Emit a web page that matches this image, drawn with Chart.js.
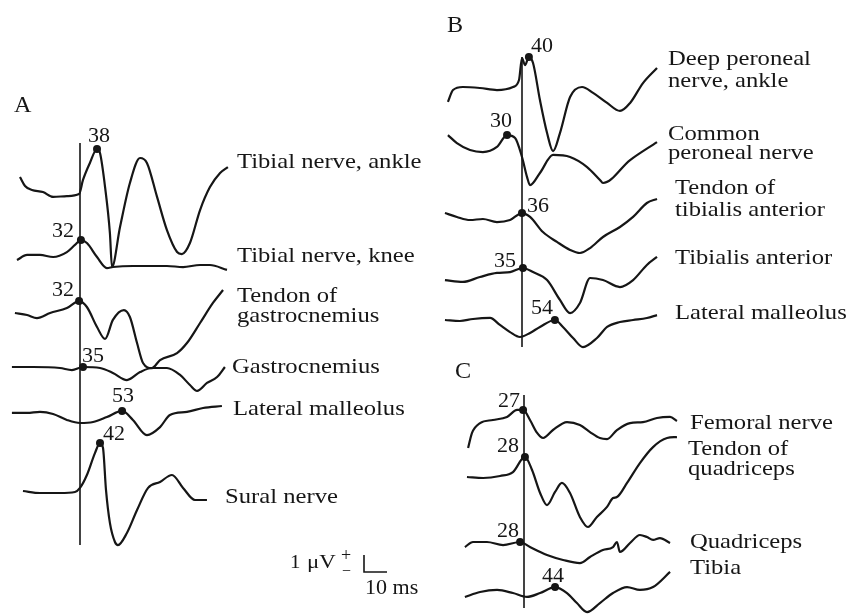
<!DOCTYPE html>
<html>
<head>
<meta charset="utf-8">
<script src="https://cdn.jsdelivr.net/npm/chart.js@4/dist/chart.umd.min.js"></script>
<style>
  html, body { margin: 0; padding: 0; background: #fff; }
  #wrap { width: 847px; height: 615px; }
</style>
</head>
<body>
<div id="wrap"><canvas id="chart" width="847" height="615"></canvas></div>
<script>
// each trace: time in ms from the stimulus line, amplitude in µV from its own baseline
// A - tibial nerve
const tibAnkleMs = [-26.1,-23.9,-20.9,-16.1,-11.7,-5.7,-0.4,1.3,4.3,7.4,8.7,10.9,13.0,13.9,17.4,21.7,26.1,29.1,33.5,37.8,42.2,44.3,47.8,52.2,56.5,60.9,64.3];
const tibAnkleUv = [0.88,0.35,0.12,0,-0.29,-0.24,-0.12,0.71,1.71,2.53,2.29,0.29,-2.41,-4.41,-2.06,0.53,2.0,1.71,-0.29,-2.24,-3.53,-3.65,-3.0,-1.06,0.29,1.12,1.47];
const tibKneeMs = [-27.4,-23.0,-17.4,-11.7,-5.7,-2.2,0.4,3.0,7.4,11.7,14.3,23.0,37.8,44.8,52.2,56.5,63.9];
const tibKneeUv = [-0.18,0.12,0.12,0,0.29,0.71,1.0,0.82,0,-0.65,-0.59,-0.53,-0.53,-0.59,-0.47,-0.47,-0.76];
const tendGastMs = [-28.3,-23.0,-18.7,-13.0,-5.7,-0.4,3.0,7.4,10.9,14.3,19.1,21.7,24.8,27.4,31.3,34.8,42.2,46.5,52.2,57.8,62.2];
const tendGastUv = [0.12,0,-0.18,0.12,0.41,0.82,0.47,-0.71,-1.41,-0.29,0.29,-0.12,-1.65,-2.82,-3.12,-2.65,-2.24,-1.65,-0.47,0.71,1.47];
const gastMs = [-29.6,-20.4,-8.7,-3.5,1.3,8.7,14.3,20.4,26.1,31.3,37.8,43.5,47.8,50.9,55.2,59.6,63.0];
const gastUv = [0.06,0.06,0,-0.12,0.06,0,-0.29,-0.71,-0.24,0,0,-0.41,-1.0,-1.35,-0.88,-0.53,0.06];
const latMallAMs = [-29.6,-23.0,-17.4,-11.7,-5.7,0,5.7,11.7,18.3,23.0,29.1,34.8,39.1,46.5,53.5,61.7];
const latMallAUv = [0.12,0.12,0.18,0.06,-0.29,-0.47,-0.41,-0.12,0.24,-0.29,-1.18,-0.71,0,0.18,0.41,0.53];
const suralMs = [-24.8,-17.4,-8.7,-2.2,0,3.0,6.5,8.7,10.0,11.3,13.0,15.2,16.5,20.4,24.8,29.6,34.8,40.0,44.8,50.0,55.2];
const suralUv = [0.06,-0.06,-0.06,0,0.24,1.0,2.29,2.88,2.59,0.12,-1.82,-2.94,-3.12,-2.41,-1.06,0.24,0.59,1.0,0.24,-0.47,-0.47];

// B - peroneal nerve
const deepPerMs = [-32.2,-30.0,-25.7,-18.3,-10.9,-3.9,-1.3,0,1.3,3.0,4.8,7.8,10.9,13.5,16.5,20.9,26.1,30.9,37.0,42.6,47.0,52.6,58.7];
const deepPerUv = [-0.82,-0.12,0.06,0,-0.12,0.06,0.47,1.76,1.35,1.82,1.47,-0.71,-2.65,-3.71,-2.65,-0.53,0.06,-0.29,-0.88,-1.35,-0.88,0.29,1.18];
const commPerMs = [-32.2,-28.3,-22.6,-17.0,-10.9,-6.5,-3.0,0,2.2,3.5,7.8,13.5,20.9,28.3,33.9,35.2,47.0,58.7];
const commPerUv = [0.76,0.29,-0.12,-0.24,0.06,0.76,0.59,-0.53,-1.71,-2.18,-1.47,-0.41,-0.53,-1.12,-1.88,-2.06,-0.71,0.35];
const tendTibMs = [-33.5,-28.3,-22.6,-17.0,-10.9,-5.2,0,3.5,9.1,15.2,20.9,25.2,29.6,35.2,42.6,48.3,54.3,58.7];
const tendTibUv = [0.41,0.18,0,0.06,-0.12,0,0.41,0.18,-0.71,-1.29,-1.76,-1.94,-1.65,-1.0,-0.41,0.18,1.0,1.24];
const tibAntMs = [-33.5,-25.7,-18.3,-10.9,-5.2,0.4,4.8,10.9,16.5,20.9,25.2,29.6,35.2,42.6,48.3,54.3,58.7];
const tibAntUv = [-0.18,-0.29,0,0.24,0.29,0.53,0.29,-0.18,-1.35,-2.12,-1.53,-0.06,-0.18,-0.59,-0.18,0.71,1.18];
const latMallBMs = [-33.5,-27.0,-21.3,-13.9,-9.6,-5.2,-0.9,3.5,7.8,14.3,17.8,22.2,26.5,32.6,37.0,42.6,48.3,54.3,58.7];
const latMallBUv = [0,-0.06,0.06,0.12,-0.29,-0.71,-1.0,-0.76,-0.41,0,-0.41,-1.06,-1.59,-1.06,-0.41,-0.12,0,0.12,0.29];

// C - femoral nerve
const femMs = [-24.3,-22.6,-19.1,-13.5,-7.4,-3.0,-0.4,2.6,5.7,8.3,12.6,18.7,24.3,28.7,33.0,36.1,40.4,46.1,51.7,57.8,63.5,66.5];
const femUv = [-1.65,-0.76,-0.18,0,0.18,0.59,0.59,0,-0.76,-1.06,-0.59,-0.12,-0.29,-0.71,-1.06,-1.12,-0.59,-0.18,-0.12,0.12,0.18,-0.06];
const tendQuadMs = [-24.8,-17.8,-10.4,-4.8,0.4,3.5,7.0,10.0,13.5,16.5,20.0,24.3,27.8,31.7,36.1,38.7,40.4,44.8,50.4,56.1,62.2,66.5];
const tendQuadUv = [0,-0.06,0.06,0.29,1.18,0.41,-0.94,-1.65,-0.88,-0.35,-0.94,-2.35,-2.94,-2.35,-1.76,-1.24,-1.18,-0.35,0.82,1.76,2.29,2.35];
const quadMs = [-25.7,-22.2,-16.1,-9.1,-1.7,2.6,10.0,17.0,24.3,28.7,34.3,38.7,40.4,41.7,46.1,50.4,53.5,56.1,59.1,63.5];
const quadUv = [-0.24,0.06,0.06,-0.12,0.06,-0.24,-0.71,-1.0,-1.18,-0.82,-0.41,-0.24,0.06,-0.53,0,0.47,0.35,0.18,0.29,0];
const tibiaMs = [-25.7,-19.1,-11.7,-4.8,1.3,7.0,13.5,18.7,23.0,27.4,33.0,38.7,44.8,50.4,56.1,63.5];
const tibiaUv = [-0.29,0,0.12,-0.06,-0.29,-0.06,0.29,-0.06,-0.65,-1.18,-0.65,-0.06,0.29,0.12,0.29,1.18];

// latencies (ms) written at the marked peak of each trace
const latenciesA = [38, 32, 32, 35, 53, 42];
const latenciesB = [40, 30, 36, 35, 54];
const latenciesC = [27, 28, 28, 44];

// scale bar: 1 µV, 10 ms
const scaleBarUv = 1;
const scaleBarMs = 10;

// ---- layout (pixels) ----
const W = 847, H = 615;
const PX_MS = 2.3, PX_UV = 17;
const toMs = px => px / PX_MS;
const toUv = py => (H - py) / PX_UV;
const INK = '#161616';
const SERIF = '"Liberation Serif", "DejaVu Serif", serif';

const panels = {
  A: { x: 80, top: 143, bottom: 545, letter: 'A', lx: 14, ly: 112 },
  B: { x: 522, top: 57, bottom: 347, letter: 'B', lx: 447, ly: 32 },
  C: { x: 524, top: 395, bottom: 608, letter: 'C', lx: 455, ly: 378 }
};

const traces = [
  { p: 'A', ms: tibAnkleMs, uv: tibAnkleUv, base: 192, mark: 9, lat: latenciesA[0], dx: 2, dy: -7, text: [['Tibial nerve, ankle', 237, 168]] },
  { p: 'A', ms: tibKneeMs, uv: tibKneeUv, base: 257, mark: 6, lat: latenciesA[1], dx: -18, dy: -3, text: [['Tibial nerve, knee', 237, 262]] },
  { p: 'A', ms: tendGastMs, uv: tendGastUv, base: 315, mark: 5, lat: latenciesA[2], dx: -16, dy: -5, text: [['Tendon of', 237, 302], ['gastrocnemius', 237, 322]] },
  { p: 'A', ms: gastMs, uv: gastUv, base: 368, mark: 4, lat: latenciesA[3], dx: 10, dy: -5, text: [['Gastrocnemius', 232, 373]] },
  { p: 'A', ms: latMallAMs, uv: latMallAUv, base: 415, mark: 8, lat: latenciesA[4], dx: 1, dy: -9, text: [['Lateral malleolus', 233, 415]] },
  { p: 'A', ms: suralMs, uv: suralUv, base: 492, mark: 7, lat: latenciesA[5], dx: 14, dy: -3, text: [['Sural nerve', 225, 503]] },
  { p: 'B', ms: deepPerMs, uv: deepPerUv, base: 88, mark: 9, lat: latenciesB[0], dx: 13, dy: -5, text: [['Deep peroneal', 668, 65], ['nerve, ankle', 668, 87]] },
  { p: 'B', ms: commPerMs, uv: commPerUv, base: 148, mark: 5, lat: latenciesB[1], dx: -6, dy: -8, text: [['Common', 668, 140], ['peroneal nerve', 668, 159]] },
  { p: 'B', ms: tendTibMs, uv: tendTibUv, base: 220, mark: 6, lat: latenciesB[2], dx: 16, dy: -1, text: [['Tendon of', 675, 194], ['tibialis anterior', 675, 216]] },
  { p: 'B', ms: tibAntMs, uv: tibAntUv, base: 277, mark: 5, lat: latenciesB[3], dx: -18, dy: -1, text: [['Tibialis anterior', 675, 264]] },
  { p: 'B', ms: latMallBMs, uv: latMallBUv, base: 320, mark: 9, lat: latenciesB[4], dx: -13, dy: -6, text: [['Lateral malleolus', 675, 319]] },
  { p: 'C', ms: femMs, uv: femUv, base: 420, mark: 6, lat: latenciesC[0], dx: -14, dy: -3, text: [['Femoral nerve', 690, 429]] },
  { p: 'C', ms: tendQuadMs, uv: tendQuadUv, base: 477, mark: 4, lat: latenciesC[1], dx: -17, dy: -5, text: [['Tendon of', 688, 455], ['quadriceps', 688, 475]] },
  { p: 'C', ms: quadMs, uv: quadUv, base: 543, mark: 4, lat: latenciesC[2], dx: -12, dy: -5, text: [['Quadriceps', 690, 548]] },
  { p: 'C', ms: tibiaMs, uv: tibiaUv, base: 592, mark: 6, lat: latenciesC[3], dx: -2, dy: -5, text: [['Tibia', 690, 574]] }
];

const scaleBar = { x: 364, y: 572 };

// ---- datasets ----
const datasets = [];
traces.forEach(tr => {
  const x0 = toMs(panels[tr.p].x), y0 = toUv(tr.base);
  datasets.push({
    data: tr.ms.map((t, i) => ({ x: x0 + t, y: y0 + tr.uv[i] })),
    showLine: true,
    borderColor: INK,
    borderWidth: 2.2,
    cubicInterpolationMode: 'monotone',
    pointRadius: c => c.dataIndex === tr.mark ? 4 : 0,
    pointBackgroundColor: INK,
    pointBorderWidth: 0,
    clip: false
  });
});
Object.values(panels).forEach(p => {
  datasets.push({
    data: [{ x: toMs(p.x), y: toUv(p.top) }, { x: toMs(p.x), y: toUv(p.bottom) }],
    showLine: true, borderColor: INK, borderWidth: 1.6, pointRadius: 0, clip: false
  });
});
const sbX = toMs(scaleBar.x), sbY = toUv(scaleBar.y);
datasets.push({
  data: [{ x: sbX, y: sbY + scaleBarUv }, { x: sbX, y: sbY }, { x: sbX + scaleBarMs, y: sbY }],
  showLine: true, borderColor: INK, borderWidth: 1.6, pointRadius: 0, clip: false
});

function drawText(ctx, str, x, y, size, sx, align) {
  ctx.save();
  ctx.font = size + 'px ' + SERIF;
  ctx.textAlign = align || 'left';
  ctx.textBaseline = 'alphabetic';
  ctx.translate(x, y);
  ctx.scale(sx, 1);
  ctx.fillText(str, 0, 0);
  ctx.restore();
}

const annotations = {
  id: 'annotations',
  afterDatasetsDraw(chart) {
    const ctx = chart.ctx;
    ctx.fillStyle = INK;
    traces.forEach((tr, i) => {
      tr.text.forEach(([s, x, y]) => drawText(ctx, s, x, y, 22, 1.12));
      const pt = chart.getDatasetMeta(i).data[tr.mark];
      drawText(ctx, String(tr.lat), pt.x + tr.dx, pt.y + tr.dy, 22, 1, 'center');
    });
    Object.values(panels).forEach(p => drawText(ctx, p.letter, p.lx, p.ly, 23, 1.05));
    drawText(ctx, '1', 290, 568, 19, 1.1);
    drawText(ctx, '\u03bcV', 307, 568, 19, 1.2);
    drawText(ctx, '+', 341, 561, 18, 1);
    drawText(ctx, '\u2212', 342, 576, 16, 1);
    drawText(ctx, `${scaleBarMs} ms`, 365, 594, 21, 1.05);
  }
};

new Chart(document.getElementById('chart'), {
  type: 'scatter',
  data: { datasets },
  options: {
    responsive: false,
    animation: false,
    layout: { padding: 0 },
    events: [],
    plugins: { legend: { display: false }, tooltip: { enabled: false } },
    scales: {
      x: { type: 'linear', display: false, min: 0, max: W / PX_MS },
      y: { type: 'linear', display: false, min: 0, max: H / PX_UV }
    }
  },
  plugins: [annotations]
});
</script>
</body>
</html>
